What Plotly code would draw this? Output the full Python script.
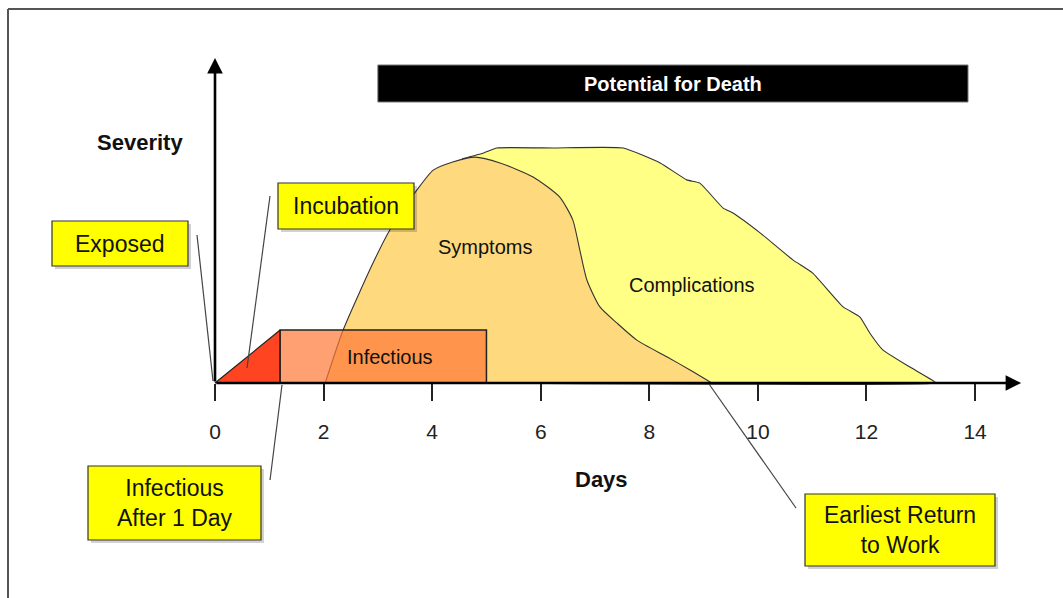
import plotly.graph_objects as go

# ---------------- data (days / relative severity) ----------------
tick_days = [0, 2, 4, 6, 8, 10, 12, 14]

symptoms_days = [2.03, 2.36, 2.91, 3.22, 3.72, 4.02, 4.38, 4.79, 5.25, 5.86, 6.35,
                 6.59, 6.72, 6.85, 7.09, 7.40, 7.77, 8.33, 8.75, 9.15]
symptoms_sev = [0.0, 1.63, 3.69, 4.71, 5.94, 6.55, 6.80, 6.95, 6.77, 6.34, 5.72,
                5.02, 4.09, 3.17, 2.34, 1.85, 1.32, 0.80, 0.40, 0.0]

complications_days = [4.55, 4.95, 5.19, 6.23, 7.52, 8.20, 8.69, 8.93, 9.36, 9.54, 10.04,
                      10.65, 11.01, 11.57, 11.88, 12.06, 12.30, 12.80, 13.26, 13.26, 4.55]
complications_sev = [6.90, 7.08, 7.23, 7.23, 7.23, 6.77, 6.25, 6.15, 5.38, 5.23, 4.62,
                     3.78, 3.38, 2.34, 2.03, 1.54, 1.02, 0.49, 0.03, 0.0, 0.0]

incubation_days = [0.0, 1.2]        # ramp to infectiousness
infectious_days = [1.2, 5.0]        # infectious period
infectious_level = 1.63
severity_axis_top = 10.0
days_axis_end = 14.85
death_days = [3.0, 13.87]           # potential for death window

# ---------------- geometry of the picture ----------------
W, H = 1063, 598
X0_PX, PX_PER_DAY = 215, 54.29
BASE_PX, PX_PER_SEV = 383, 32.5
x_range = [-X0_PX / PX_PER_DAY, (W - X0_PX) / PX_PER_DAY]
y_range = [-(H - BASE_PX) / PX_PER_SEV, BASE_PX / PX_PER_SEV]


def px(x):
    return x / W


def py(y):
    return 1 - y / H


FONT = "Liberation Sans, Arial, sans-serif"
fig = go.Figure()

# complications (drawn first, symptoms overlays it)
fig.add_trace(go.Scatter(x=complications_days, y=complications_sev, mode="lines",
                         fill="toself", fillcolor="#FFFF85",
                         line=dict(color="#333333", width=1.1, shape="spline", smoothing=0.4),
                         hoverinfo="skip", showlegend=False))
fig.add_trace(go.Scatter(x=symptoms_days, y=symptoms_sev, mode="lines",
                         fill="toself", fillcolor="#FFD97E",
                         line=dict(color="#333333", width=1.1, shape="spline", smoothing=0.6),
                         hoverinfo="skip", showlegend=False))
# red incubation ramp
fig.add_trace(go.Scatter(x=[incubation_days[0], incubation_days[1], incubation_days[1], incubation_days[0]],
                         y=[0, infectious_level, 0, 0], mode="lines", fill="toself",
                         fillcolor="#FF4422", line=dict(color="#222222", width=1.2),
                         hoverinfo="skip", showlegend=False))
# infectious rectangle (semi-transparent)
fig.add_trace(go.Scatter(x=[infectious_days[0], infectious_days[1], infectious_days[1],
                            infectious_days[0], infectious_days[0]],
                         y=[0, 0, infectious_level, infectious_level, 0], mode="lines",
                         fill="toself", fillcolor="rgba(255,120,55,0.7)",
                         line=dict(color="#222222", width=1.5),
                         hoverinfo="skip", showlegend=False))

shapes = []
# frame lines
shapes.append(dict(type="line", xref="paper", yref="paper", x0=px(8), x1=px(W), y0=py(9), y1=py(9),
                   line=dict(color="#555555", width=2)))
shapes.append(dict(type="line", xref="paper", yref="paper", x0=px(8), x1=px(8), y0=py(9), y1=py(H),
                   line=dict(color="#555555", width=2)))
# potential for death bar
shapes.append(dict(type="rect", xref="x", yref="paper", x0=death_days[0], x1=death_days[1],
                   y0=py(102), y1=py(65), fillcolor="black", line=dict(color="#777777", width=1)))

# leader lines
for (a, b, c, d) in [(197, 235, 213, 381), (270, 196, 247, 368), (270, 480, 282, 385), (709, 384, 796, 508)]:
    shapes.append(dict(type="line", xref="paper", yref="paper", x0=px(a), y0=py(b), x1=px(c), y1=py(d),
                       line=dict(color="#444444", width=1.2)))

annotations = []
# yellow boxes
boxes = [
    ("Exposed", 52, 221, 188, 266),
    ("Incubation", 278, 183, 414, 229),
    ("Infectious<br>After 1 Day", 88, 466, 261, 540),
    ("Earliest Return<br>to Work", 805, 494, 995, 566),
]
for text, a, b, c, d in boxes:
    shapes.append(dict(type="rect", xref="paper", yref="paper", x0=px(a + 3), x1=px(c + 3),
                       y0=py(d + 3), y1=py(b + 3), fillcolor="rgba(0,0,0,0.18)", line=dict(width=0)))
    shapes.append(dict(type="rect", xref="paper", yref="paper", x0=px(a), x1=px(c), y0=py(d), y1=py(b),
                       fillcolor="#FFFF00", line=dict(color="#333333", width=1.2)))
    annotations.append(dict(text=text, xref="paper", yref="paper", x=px((a + c) / 2), y=py((b + d) / 2),
                            showarrow=False, xanchor="center", yanchor="middle",
                            font=dict(family=FONT, size=23, color="#111111")))

# axis arrows
annotations.append(dict(text="", x=days_axis_end, y=0, ax=0, ay=0, xref="x", yref="y",
                        axref="x", ayref="y", showarrow=True, arrowhead=2, arrowsize=1.2,
                        arrowwidth=2.6, arrowcolor="black"))
annotations.append(dict(text="", x=0, y=severity_axis_top, ax=0, ay=0, xref="x", yref="y",
                        axref="x", ayref="y", showarrow=True, arrowhead=2, arrowsize=1.2,
                        arrowwidth=2.6, arrowcolor="black"))

# text labels
def label(text, x, y, size, bold=False, color="#111111"):
    annotations.append(dict(text=f"<b>{text}</b>" if bold else text, xref="paper", yref="paper",
                            x=px(x), y=py(y), showarrow=False, xanchor="center", yanchor="middle",
                            font=dict(family=FONT, size=size, color=color)))

label("Severity", 140, 142, 22, bold=True)
label("Days", 601, 479, 22, bold=True)
label("Symptoms", 485, 247, 20)
label("Complications", 692, 285, 20)
label("Infectious", 390, 357, 20)
label("Potential for Death", 673, 84, 20, bold=True, color="white")

fig.update_layout(
    width=W, height=H, margin=dict(l=0, r=0, t=0, b=0),
    paper_bgcolor="white", plot_bgcolor="white",
    shapes=shapes, annotations=annotations, showlegend=False,
    xaxis=dict(range=x_range, showgrid=False, zeroline=False, showline=False,
               tickmode="array", tickvals=tick_days, ticktext=[str(t) for t in tick_days],
               ticks="outside", ticklen=17, tickwidth=1.6, tickcolor="#222222",
               ticklabelstandoff=13,
               tickfont=dict(family=FONT, size=21, color="#222222"),
               anchor="free", position=py(BASE_PX), automargin=False, fixedrange=True),
    yaxis=dict(range=y_range, visible=False, showgrid=False, zeroline=False, fixedrange=True),
)

fig.write_html("out.html", config={"displayModeBar": False},
               post_script="document.body.style.margin='0';document.body.style.overflow='hidden';")
